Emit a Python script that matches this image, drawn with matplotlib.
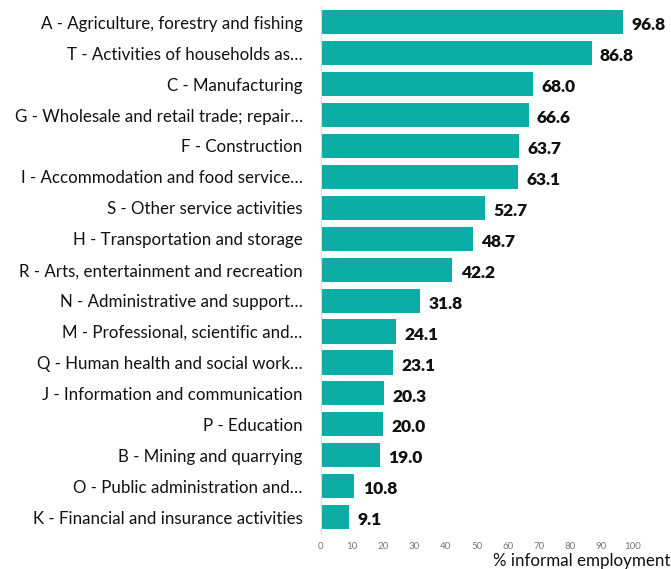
import matplotlib
matplotlib.use("Agg")
import matplotlib.pyplot as plt

categories = [
    "A - Agriculture, forestry and fishing",
    "T - Activities of households as…",
    "C - Manufacturing",
    "G - Wholesale and retail trade; repair…",
    "F - Construction",
    "I - Accommodation and food service…",
    "S - Other service activities",
    "H - Transportation and storage",
    "R - Arts, entertainment and recreation",
    "N - Administrative and support…",
    "M - Professional, scientific and…",
    "Q - Human health and social work…",
    "J - Information and communication",
    "P - Education",
    "B - Mining and quarrying",
    "O - Public administration and…",
    "K - Financial and insurance activities",
]
values = [96.8, 86.8, 68.0, 66.6, 63.7, 63.1, 52.7, 48.7, 42.2, 31.8, 24.1, 23.1, 20.3, 20.0, 19.0, 10.8, 9.1]
xticks = [0, 10, 20, 30, 40, 50, 60, 70, 80, 90, 100]

plt.rcParams['font.family'] = ['Lato', 'DejaVu Sans']
fig = plt.figure(figsize=(6.71, 5.69), dpi=100)
ax = fig.add_axes([0.478, 0.064, 0.465, 0.924])

color = "#0BADA6"
ypos = list(range(len(categories)))
ax.barh(ypos, values, height=0.78, color=color)
ax.set_ylim(len(categories) - 0.5, -0.5)
ax.set_xlim(0, 100)
ax.set_yticks(ypos)
ax.set_yticklabels(categories, fontsize=12.2, color="#111111")
ax.tick_params(axis='y', length=0, pad=13)
ax.set_xticks(xticks)
ax.set_xticklabels([str(t) for t in xticks], fontsize=7, color="#777777")
ax.tick_params(axis='x', length=0, pad=7)
for s in ["top", "right", "bottom"]:
    ax.spines[s].set_visible(False)
ax.spines["left"].set_color("#d9d9d9")
ax.spines["left"].set_linewidth(0.8)

for y, v in zip(ypos, values):
    ax.text(v + 2.7, y + 0.1, f"{v:.1f}", va="center", ha="left", fontsize=12.5, fontweight="heavy", color="#111111")

fig.text(0.999, 0.0, "% informal employment", ha="right", va="bottom", fontsize=12.2, color="#111111")

fig.savefig("out.png", dpi=100)
